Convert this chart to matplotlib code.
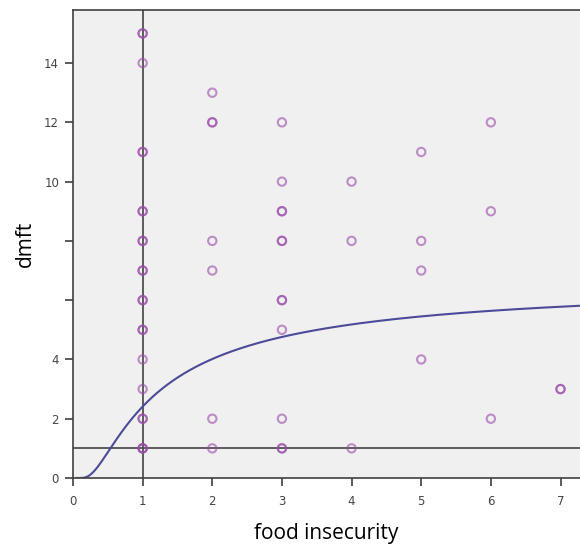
import numpy as np
import matplotlib
matplotlib.use("Agg")
import matplotlib.pyplot as plt

# Data (repeated entries = overlapping observations)
food_insecurity = (
    [1]*2 + [1] + [1]*2 + [1]*2 + [1]*2 + [1]*2 + [1]*2 + [1]*2 + [1] + [1] + [1]*2 + [1]*3
    + [2, 2, 2, 2, 2, 2, 2]
    + [3, 3, 3, 3, 3, 3, 3, 3, 3, 3, 3, 3]
    + [4, 4, 4]
    + [5, 5, 5, 5]
    + [6, 6, 6]
    + [7, 7]
)
dmft = (
    [15]*2 + [14] + [11]*2 + [9]*2 + [8]*2 + [7]*2 + [6]*2 + [5]*2 + [4] + [3] + [2]*2 + [1]*3
    + [13, 12, 12, 8, 7, 2, 1]
    + [12, 10, 9, 9, 8, 8, 6, 6, 5, 2, 1, 1]
    + [10, 8, 1]
    + [11, 8, 7, 4]
    + [12, 9, 2]
    + [3, 3]
)

# S-curve fit: dmft = exp(b0 + b1 / x)
b0 = 1.90
b1 = -1.02

x_ref = 1
y_ref = 1

y_ticks = [0, 2, 4, 6, 8, 10, 12, 14]
y_tick_labels = ["0", "2", "4", "", "", "10", "12", "14"]
x_ticks = [0, 1, 2, 3, 4, 5, 6, 7]
x_tick_labels = ["0", "1", "2", "3", "4", "5", "6", "7"]

fig = plt.figure(figsize=(5.8, 5.44), dpi=100)
ax = fig.add_axes([73/580, 66/544, 507/580, 468/544])
ax.set_facecolor("#f0f0f0")

xmax = 7.28
ymax = 15.79
ax.set_xlim(0, xmax)
ax.set_ylim(0, ymax)

# reference lines
ax.axvline(x_ref, color="#505050", lw=1.3, zorder=1)
ax.axhline(y_ref, color="#505050", lw=1.3, zorder=1)

# fit curve
xs = np.linspace(0.05, xmax, 400)
ax.plot(xs, np.exp(b0 + b1 / xs), color="#4b4b9a", lw=1.5, zorder=2)

# points
ax.scatter(food_insecurity, dmft, s=36, facecolors="none",
           edgecolors="#9a4aaa", linewidths=1.5, alpha=0.6, zorder=3)

ax.set_yticks(y_ticks)
ax.set_yticklabels(y_tick_labels)
ax.set_xticks(x_ticks)
ax.set_xticklabels(x_tick_labels)
ax.tick_params(direction="out", length=6, width=1.2, color="#404040",
               labelsize=8.5, labelcolor="#444444")
ax.tick_params(axis="x", pad=6)
ax.tick_params(axis="y", pad=4)

for s in ["left", "bottom", "top"]:
    ax.spines[s].set_color("#404040")
    ax.spines[s].set_linewidth(1.2)
ax.spines["right"].set_visible(False)

ax.set_xlabel("food insecurity", fontsize=15, family="Open Sans", labelpad=11)
ax.set_ylabel("dmft", fontsize=15, family="Open Sans", labelpad=6)

fig.savefig("out.png", dpi=100)
